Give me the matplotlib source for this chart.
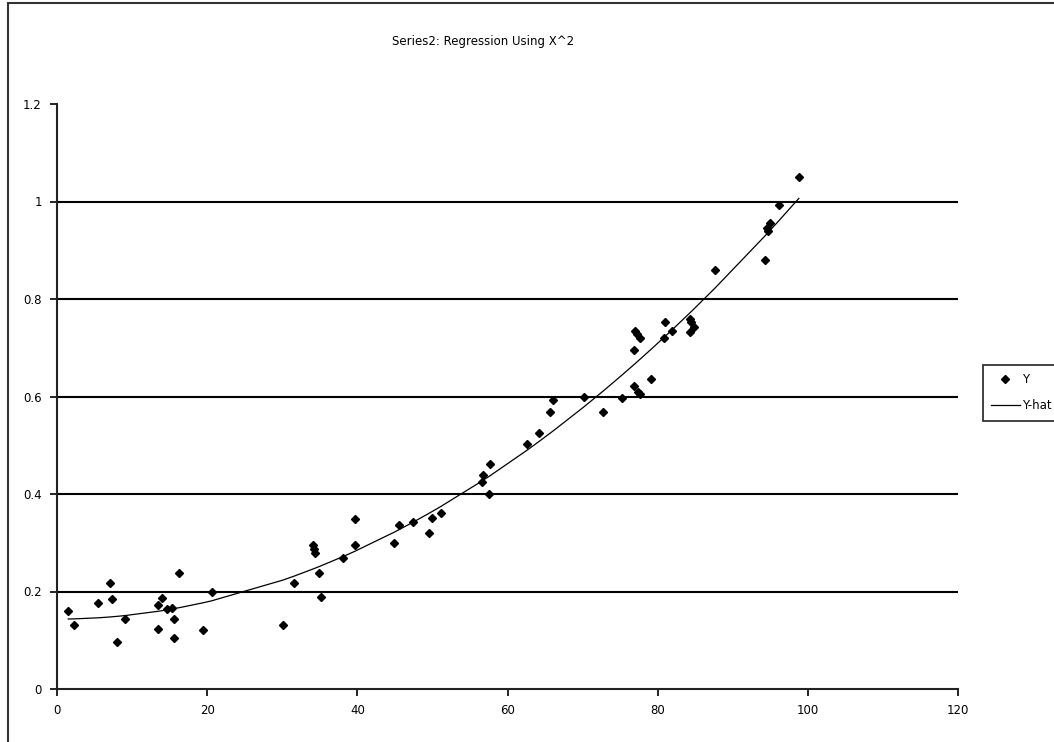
import numpy as np
import matplotlib
matplotlib.use("Agg")
import matplotlib.pyplot as plt
from matplotlib.patches import Rectangle

# data
x_vals = [1.5, 2.3, 5.5, 7.1, 7.3, 8.0, 9.0, 13.5, 13.5, 14.0, 14.6, 15.3, 15.6, 15.6,
          16.3, 19.5, 20.6, 30.1, 31.6, 34.1, 34.2, 34.4, 34.9, 35.1, 38.1, 39.7, 39.7,
          44.9, 45.5, 47.4, 49.5, 49.9, 51.1, 56.6, 56.8, 57.6, 57.7, 62.6, 64.2, 65.7,
          66.1, 70.2, 72.7, 75.2, 76.9, 77.4, 77.7, 79.1, 76.9, 77.0, 77.3, 77.6, 80.8,
          81.0, 81.9, 84.3, 84.5, 84.3, 84.8, 87.6, 94.3, 94.5, 94.7, 95.0, 96.2, 98.8]
y_vals = [0.160, 0.131, 0.176, 0.217, 0.184, 0.096, 0.143, 0.124, 0.172, 0.187, 0.164,
          0.167, 0.143, 0.104, 0.237, 0.121, 0.199, 0.131, 0.218, 0.295, 0.288, 0.278,
          0.237, 0.189, 0.269, 0.295, 0.348, 0.300, 0.336, 0.343, 0.320, 0.351, 0.361,
          0.424, 0.439, 0.400, 0.461, 0.503, 0.525, 0.568, 0.592, 0.599, 0.568, 0.597,
          0.622, 0.610, 0.605, 0.635, 0.695, 0.735, 0.728, 0.720, 0.721, 0.753, 0.734,
          0.760, 0.752, 0.733, 0.742, 0.860, 0.881, 0.945, 0.940, 0.955, 0.993, 1.050]

title = "Series2: Regression Using X^2"
x_ticks = [0, 20, 40, 60, 80, 100, 120]
y_ticks = [0, 0.2, 0.4, 0.6, 0.8, 1.0, 1.2]
y_labels = ["0", "0.2", "0.4", "0.6", "0.8", "1", "1.2"]

x = np.array(x_vals)
y = np.array(y_vals)
b, a = np.polyfit(x ** 2, y, 1)
order = np.argsort(x)
y_hat = a + b * x[order] ** 2

plt.rcParams['font.family'] = ['DejaVu Sans']
FS = 8.5

W, H = 1054, 742
fig = plt.figure(figsize=(W / 100, H / 100), dpi=100)

# outer chart border (right/bottom fall outside the image)
fig.patches.append(Rectangle((8 / W, -0.1), 1.2, 1 - 3 / H + 0.1, transform=fig.transFigure,
                             fill=False, edgecolor='#333333', linewidth=1.5))

ax = fig.add_axes([57 / W, (H - 689) / H, (958 - 57) / W, (689 - 104) / H])
ax.plot(x, y, linestyle='none', marker='D', markersize=4.3, color='black', label='Y')
ax.plot(x[order], y_hat, color='black', linewidth=0.9, label='Y-hat')

ax.set_xlim(0, 120)
ax.set_ylim(0, 1.2)
ax.set_xticks(x_ticks)
ax.set_yticks(y_ticks)
ax.set_yticklabels(y_labels)
ax.tick_params(direction='out', length=5, width=1.2, labelsize=FS, colors='black', pad=6)
ax.yaxis.grid(True, color='black', linewidth=1.5)
gl = ax.get_ygridlines()
gl[0].set_visible(False)
gl[-1].set_visible(False)
ax.set_axisbelow(True)
for s in ['top', 'right']:
    ax.spines[s].set_visible(False)
for s in ['left', 'bottom']:
    ax.spines[s].set_linewidth(1.5)
    ax.spines[s].set_color('#222222')

fig.text(483 / W, 1 - 42 / H, title, ha='center', va='center', fontsize=FS)

# legend sits at the right edge; the reference crops it there too
leg = fig.legend(loc='upper left', bbox_to_anchor=(983 / W, 1 - 365 / H), fontsize=FS,
                 frameon=True, fancybox=False, handlelength=2.4, borderpad=0.7,
                 labelspacing=1.1, handletextpad=0.2, borderaxespad=0)
leg.get_frame().set_edgecolor('black')
leg.get_frame().set_linewidth(1.3)

fig.savefig("out.png", dpi=100)
